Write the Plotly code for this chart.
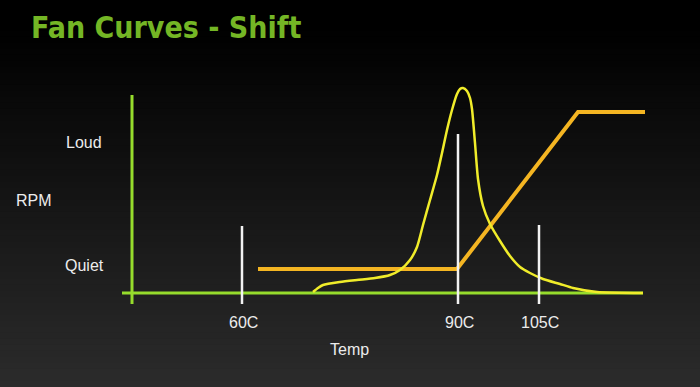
import plotly.graph_objects as go

# ---- data (diagram units: x across, y height above the temperature axis) ----
temp_labels = ["60C", "90C", "105C"]
temp_pos = [242, 458, 539]
temp_marker_top = [67, 159, 68]

rpm_labels = ["Loud", "Quiet"]
rpm_pos = [151, 28]

fan_x = [258, 457, 578, 645]
fan_y = [24, 24, 181, 181]

load_x = [313, 318, 323, 340, 357, 375, 390, 400, 410, 417, 423, 430, 437, 442,
          447, 452, 457, 460, 463, 467, 470, 472, 475, 478, 483, 490, 500, 510,
          520, 530, 543, 560, 573, 597, 643]
load_y = [1, 5, 8, 11, 13, 15, 18, 23, 33, 46, 68, 93, 118, 140,
          163, 183, 199, 204, 205, 202, 195, 184, 150, 114, 87, 69, 52, 37,
          26, 20, 14, 9, 5, 1, 0]

W, H = 700, 387
Y0 = 293  # pixel row of the temperature axis

fig = go.Figure()

# background gradient bands
nb = 64
for i in range(nb):
    p0 = i / nb
    p1 = (i + 1) / nb
    py = (1 - (p0 + p1) / 2) * H
    v = int(max(0.0, (py - 25) / (H - 25) * 44))
    fig.add_shape(type="rect", xref="paper", yref="paper", x0=0, x1=1, y0=p0, y1=p1 + 0.002,
                  fillcolor=f"rgb({v},{v},{v})", line=dict(width=0), layer="below")

green = "#96dc2c"
# axes lines
fig.add_trace(go.Scatter(x=[132, 132], y=[198, -11], mode="lines",
                         line=dict(color=green, width=3), hoverinfo="skip"))
fig.add_trace(go.Scatter(x=[122, 643], y=[0, 0], mode="lines",
                         line=dict(color=green, width=3), hoverinfo="skip"))

# fan curve
fig.add_trace(go.Scatter(x=fan_x, y=fan_y, mode="lines",
                         line=dict(color="#f4b522", width=4), hoverinfo="skip"))
# load distribution curve
fig.add_trace(go.Scatter(x=load_x, y=load_y, mode="lines",
                         line=dict(color="#f0ec2a", width=2.5, shape="spline", smoothing=0.6),
                         hoverinfo="skip"))

# temperature markers
for xp, top in zip(temp_pos, temp_marker_top):
    fig.add_trace(go.Scatter(x=[xp, xp], y=[top, -11], mode="lines",
                             line=dict(color="#f2f2f2", width=2.5), hoverinfo="skip"))

txt = dict(family="Liberation Sans, Arial, sans-serif", size=16, color="#ececec")
for lab, xp in zip(temp_labels, temp_pos):
    fig.add_annotation(x=xp + 1, y=Y0 - 322, text=lab, showarrow=False, font=txt,
                       xanchor="center", yanchor="middle")
for lab, yp in zip(rpm_labels, rpm_pos):
    fig.add_annotation(x=84, y=yp, text=lab, showarrow=False, font=txt,
                       xanchor="center", yanchor="middle")
fig.add_annotation(x=34, y=Y0 - 200, text="RPM", showarrow=False, font=txt,
                   xanchor="center", yanchor="middle")
fig.add_annotation(x=349, y=Y0 - 349, text="Temp", showarrow=False, font=txt,
                   xanchor="center", yanchor="middle")

# title
fig.add_annotation(x=29, y=Y0 - 27, text="<b>Fan Curves - Shift</b>", showarrow=False,
                   font=dict(family="DejaVu Sans Condensed, DejaVu Sans, sans-serif",
                             size=30, color="#74b625"),
                   xanchor="left", yanchor="middle")

fig.update_layout(
    width=W, height=H,
    margin=dict(l=0, r=0, t=0, b=0),
    paper_bgcolor="black",
    plot_bgcolor="rgba(0,0,0,0)",
    showlegend=False,
    xaxis=dict(range=[0, W], visible=False, fixedrange=True),
    yaxis=dict(range=[Y0 - H, Y0], visible=False, fixedrange=True),
)

fig.write_html("out.html", config={"displayModeBar": False})
